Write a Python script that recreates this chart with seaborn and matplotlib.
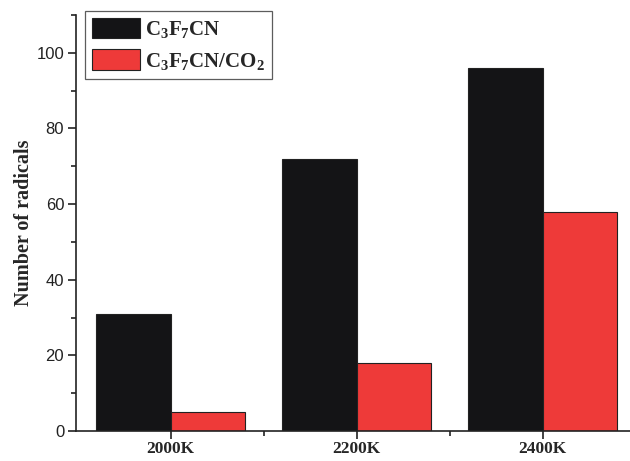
import matplotlib
matplotlib.use("Agg")
import matplotlib.pyplot as plt
from matplotlib.ticker import MultipleLocator
import seaborn as sns
import pandas as pd

temperatures = ["2000K", "2200K", "2400K"]
c3f7cn = [31, 72, 96]
c3f7cn_co2 = [5, 18, 58]
series_labels = [r"$\mathbf{C_3F_7CN}$", r"$\mathbf{C_3F_7CN/CO_2}$"]

df = pd.DataFrame({
    "Temperature": temperatures * 2,
    "Value": c3f7cn + c3f7cn_co2,
    "Gas": [series_labels[0]] * 3 + [series_labels[1]] * 3,
})

sns.set_style("ticks")
plt.rcParams["mathtext.fontset"] = "custom"
plt.rcParams["mathtext.rm"] = "Liberation Serif"
plt.rcParams["mathtext.bf"] = "Liberation Serif:bold"
plt.rcParams["font.family"] = ["Liberation Sans", "DejaVu Sans"]

fig = plt.figure(figsize=(6.3, 4.61), dpi=100)
ax = fig.add_axes([0.1206, 0.0650, 0.8794, 0.9025])

sns.barplot(data=df, x="Temperature", y="Value", hue="Gas",
            palette=["#141416", "#EE3A39"], width=0.8,
            edgecolor="#222222", linewidth=0.8, ax=ax, saturation=1)

ax.set_xlim(-0.51, 2.47)
ax.set_ylim(0, 110)
ax.yaxis.set_major_locator(MultipleLocator(20))
ax.yaxis.set_minor_locator(MultipleLocator(10))
ax.set_xticks([0, 1, 2])
ax.set_xticks([0.5, 1.5], minor=True)
ax.tick_params(axis="both", which="major", direction="out", length=6, width=1.2, color="#222222")
ax.tick_params(axis="both", which="minor", direction="out", length=3.8, width=1.2, color="#222222")
ax.tick_params(axis="y", labelsize=12, labelcolor="#222222", pad=2.5)
ax.tick_params(axis="x", pad=1.5)
ax.set_xticklabels(temperatures, fontfamily="Liberation Serif", fontweight="bold", fontsize=12.5)
ax.set_xlabel("")
ax.set_ylabel("Number of radicals", fontfamily="Liberation Serif", fontweight="bold", fontsize=14.5, labelpad=2)

for side in ["top", "right"]:
    ax.spines[side].set_visible(False)
for side in ["left", "bottom"]:
    ax.spines[side].set_linewidth(1.2)
    ax.spines[side].set_color("#222222")

leg = ax.legend(loc="upper left", bbox_to_anchor=(0.016, 1.010), fontsize=15,
                frameon=True, fancybox=False, edgecolor="#333333",
                handlelength=2.3, handleheight=1.15, labelspacing=0.45,
                handletextpad=0.25, borderpad=0.33, borderaxespad=0.0)
leg.get_frame().set_linewidth(0.9)

fig.savefig("out.png", dpi=100)
